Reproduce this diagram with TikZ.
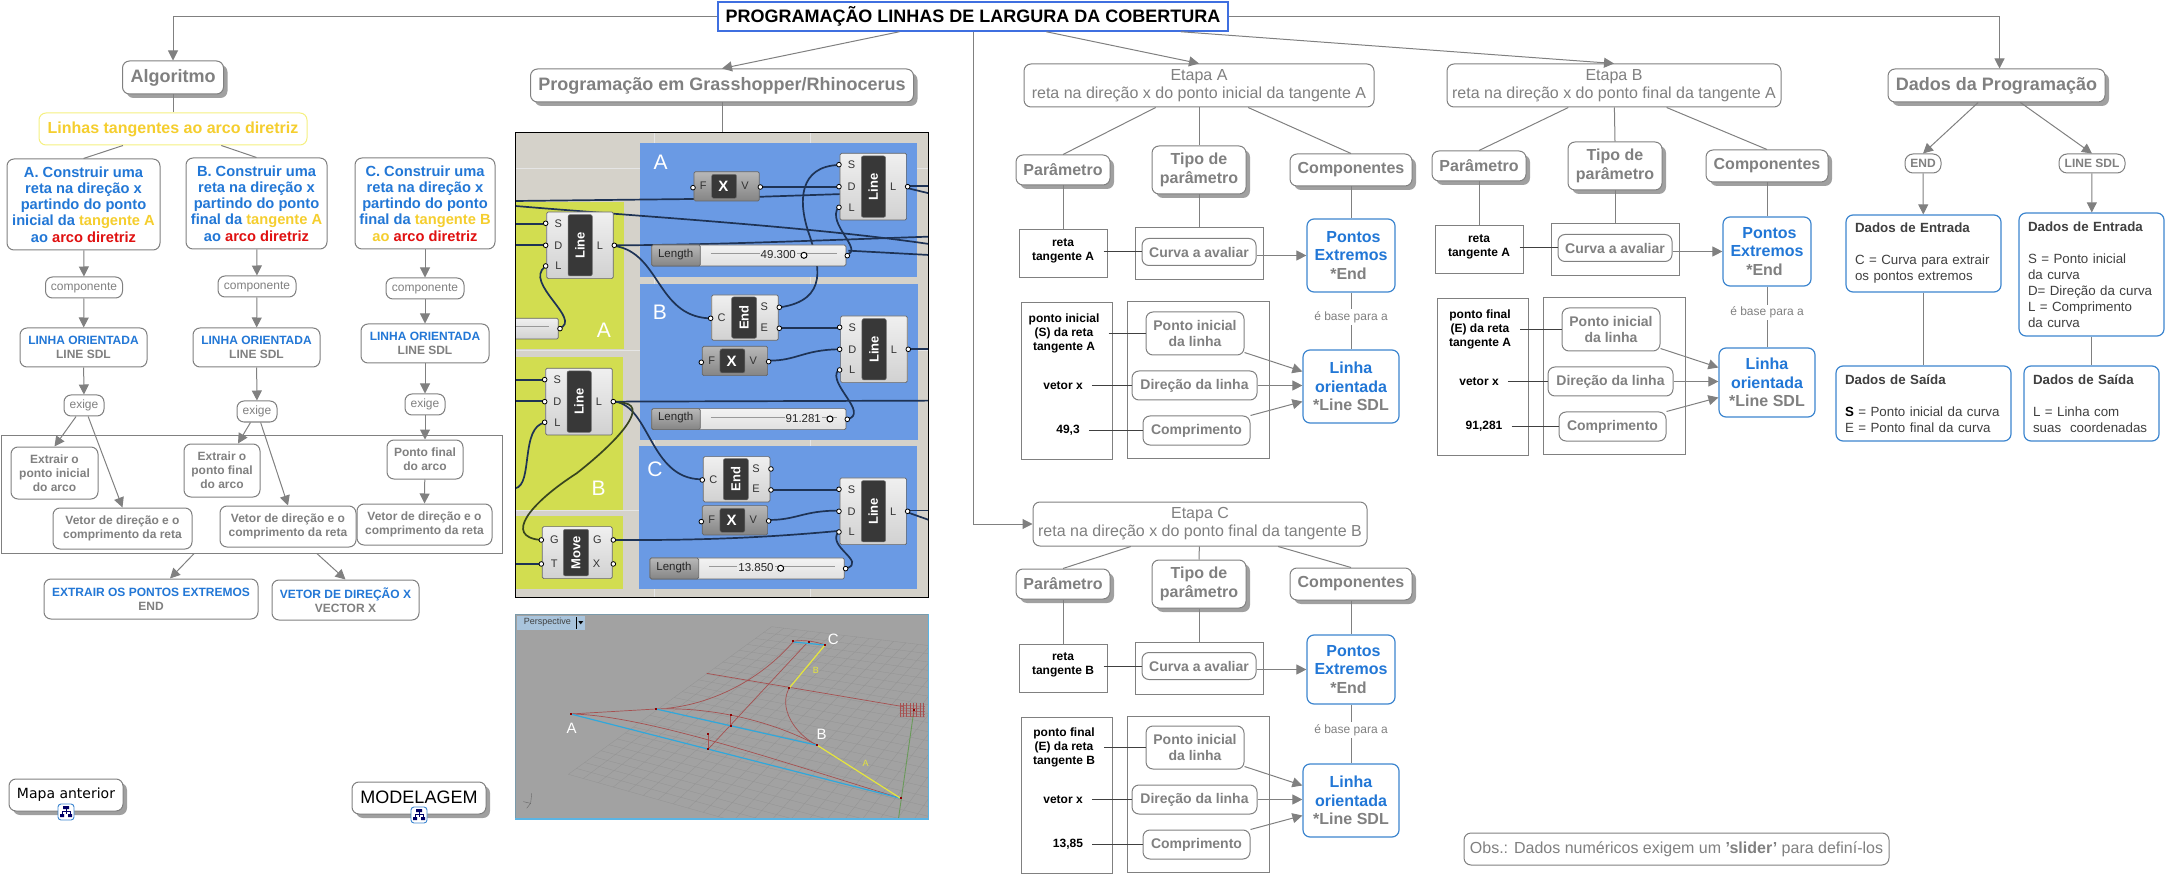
\documentclass[tikz,border=0pt]{standalone}
\usepackage{fontspec}
\setmainfont{Liberation Sans}
\newfontfamily\vfont{DejaVu Sans}
\usepackage{xcolor}
\usetikzlibrary{arrows.meta, calc, shadows}
\definecolor{cgray}{HTML}{808080}
\definecolor{cshadow}{HTML}{A0A0A0}
\definecolor{cblue}{HTML}{2277D6}
\definecolor{cborder}{HTML}{3C85CF}
\definecolor{ctitle}{HTML}{3F6FE0}
\definecolor{cyel}{HTML}{F5CE2E}
\definecolor{cyelb}{HTML}{F5F080}
\definecolor{cred}{HTML}{E01010}
\definecolor{cdark}{HTML}{404040}
\definecolor{gback}{HTML}{D5D2CA}
\definecolor{gblue}{HTML}{6A9AE4}
\definecolor{ggreen}{HTML}{D2DD50}
\definecolor{gwire}{HTML}{1E3355}
\definecolor{gmove}{HTML}{38451F}
\definecolor{vback}{HTML}{A2A2A2}
\definecolor{vgrid}{HTML}{939393}
\definecolor{vred}{HTML}{A65050}
\definecolor{vcyan}{HTML}{2FA8DC}
\definecolor{vyel}{HTML}{E6E63C}
\definecolor{vtab}{HTML}{A9C4DC}
\definecolor{vedge}{HTML}{7A9AAA}
\definecolor{vedgeb}{HTML}{5AB4E4}
\definecolor{vgreen}{HTML}{6A9A5A}

\begin{document}
\begin{tikzpicture}[x=1pt, y=-1pt,
  lnk/.style={line width=1pt, cgray},
  arr/.style={-{Triangle[length=10pt,width=10pt]}, line width=1pt, cgray},
  sz/.style 2 args={minimum width=#1pt, minimum height=#2pt},
  f12/.style={font=\fontsize{12}{14}\selectfont},
  f12b/.style={font=\fontsize{12}{14}\selectfont\bfseries},
  f13/.style={font=\fontsize{13.33}{16}\selectfont},
  f14b/.style={font=\fontsize{14}{16}\selectfont\bfseries},
  f15b/.style={font=\fontsize{14.67}{16.2}\selectfont\bfseries},
  f16/.style={font=\fontsize{16}{18}\selectfont},
  f16b/.style={font=\fontsize{16}{18.5}\selectfont\bfseries},
  f18b/.style={font=\fontsize{18}{20}\selectfont\bfseries},
  cbox/.style={draw=cgray, line width=1pt, rounded corners=7pt, fill=white,
               text=cgray, align=center, inner sep=0pt},
  sbox/.style={cbox, drop shadow={shadow xshift=4pt, shadow yshift=-4pt, fill=cshadow, opacity=1}},
  bbox/.style={cbox, draw=cborder, line width=1.2pt},
  dbox/.style={bbox, f13, text=cdark, align=left},
  rct/.style={draw=cgray, line width=1pt, inner sep=0pt},
  lbl/.style={f12b, align=center, text=black, inner xsep=9pt, inner ysep=0pt},
  gbody/.style={draw=black!60, line width=.7pt, top color=black!6, bottom color=black!18, rounded corners=1.5pt},
  gxbody/.style={draw=black!60, line width=.7pt, top color=black!28, bottom color=black!48, rounded corners=1.5pt},
  gpill/.style={fill=black!78, draw=black!55, line width=.5pt, rounded corners=2pt},
  gname/.style={text=white, inner sep=0pt, font=\fontsize{13}{13}\selectfont\bfseries},
  gpin/.style={text=black!80, inner sep=0pt, font=\fontsize{11}{11}\selectfont},
  gport/.style={draw=black, line width=.8pt, fill=white},
  wire/.style={line width=1.7pt, gwire},
  gtag/.style={text=white, inner sep=0pt, font=\fontsize{21}{21}\selectfont},
  slide/.style={text=black!85, inner sep=0pt, font=\fontsize{11.5}{12}\selectfont},
  vtag/.style={text=white, inner sep=0pt, font=\fontsize{15}{15}\selectfont},
  vline/.style={vred, line width=.7pt}
]
\useasboundingbox (0,0) rectangle (2166,874);

% titulo
\node[draw=ctitle, line width=1.5pt, fill=white, sz={510}{29}, inner sep=0pt, f18b] (titulo) at (973,16.5) {PROGRAMAÇÃO LINHAS DE LARGURA DA COBERTURA};

% coluna do algoritmo
\node[sbox, sz={101}{33}, f18b] (algo) at (173,77.5) {Algoritmo};
\node[cbox, draw=cyelb, text=cyel, sz={268}{32}, font=\fontsize{16}{18}\selectfont\bfseries] (tang) at (173,129) {Linhas tangentes ao arco diretriz};
\node[cbox, text=cblue, sz={153}{91}, f15b] (ca) at (83.5,204.5) {A. Construir uma\\reta na direção x\\partindo do ponto\\inicial da \textcolor{cyel}{tangente A}\\ao \textcolor{cred}{arco diretriz}};
\node[cbox, text=cblue, sz={141}{91}, f15b] (cb) at (256.5,203.5) {B. Construir uma\\reta na direção x\\partindo do ponto\\final da \textcolor{cyel}{tangente A}\\ao \textcolor{cred}{arco diretriz}};
\node[cbox, text=cblue, sz={140}{91}, f15b] (cc) at (425,203.5) {C. Construir uma\\reta na direção x\\partindo do ponto\\final da \textcolor{cyel}{tangente B}\\\textcolor{cyel}{ao} \textcolor{cred}{arco diretriz}};
\node[cbox, sz={77}{21}, f12] (compa) at (84,287.5) {componente};
\node[cbox, sz={78}{21}, f12] (compb) at (257,286.5) {componente};
\node[cbox, sz={78}{21}, f12] (compc) at (425,288.5) {componente};
\node[cbox, sz={127}{39}, f12b] (lina) at (83.5,347.5) {\textcolor{cblue}{LINHA ORIENTADA}\\LINE SDL};
\node[cbox, sz={127}{39}, f12b] (linb) at (256.5,347.5) {\textcolor{cblue}{LINHA ORIENTADA}\\LINE SDL};
\node[cbox, sz={128}{39}, f12b] (linc) at (425,343.5) {\textcolor{cblue}{LINHA ORIENTADA}\\LINE SDL};
\node[cbox, sz={40}{21}, f12] (exa) at (84,405.5) {exige};
\node[cbox, sz={40}{21}, f12] (exb) at (257,411.5) {exige};
\node[cbox, sz={40}{21}, f12] (exc) at (425,404.5) {exige};
\node[rct, sz={501}{118}] (grupo) at (251.5,494) {};
\node[cbox, sz={87}{52}, f12b] (exta) at (54.5,473) {Extrair o\\ponto inicial\\do arco};
\node[cbox, sz={76}{53}, f12b] (extb) at (222,470.5) {Extrair o\\ponto final\\do arco};
\node[cbox, sz={76}{39}, f12b] (pfin) at (425,459.5) {Ponto final\\do arco};
\node[cbox, sz={139}{41}, f12b] (veta) at (122.5,528.5) {Vetor de direção e o\\comprimento da reta};
\node[cbox, sz={136}{41}, f12b] (vetb) at (288,526.5) {Vetor de direção e o\\comprimento da reta};
\node[cbox, sz={135}{41}, f12b] (vetc) at (424.5,524.5) {Vetor de direção e o\\comprimento da reta};
\node[cbox, sz={214}{40}, f12b] (extr) at (151,599) {\textcolor{cblue}{EXTRAIR OS PONTOS EXTREMOS}\\END};
\node[cbox, sz={147}{40}, f12b] (vecx) at (345.5,600) {\textcolor{cblue}{VETOR DE DIREÇÃO X}\\VECTOR X};

\draw[arr] (titulo.west) -| (algo.north);
\draw[lnk] (algo) -- (tang);
\draw[lnk] (tang) -- (ca.north);
\draw[lnk] (tang) -- (cb.north);
\foreach \c in {a,b,c} {
  \draw[arr] (c\c) -- (comp\c);
  \draw[arr] (comp\c) -- (lin\c);
  \draw[arr] (lin\c) -- (ex\c);
}
\draw[arr] (exa) -- (exta.north);
\draw[arr] (exa) -- (veta.north);
\draw[arr] (exb) -- ([xshift=16pt]extb.north);
\draw[arr] (exb) -- (vetb.north);
\draw[arr] (exc) -- (pfin);
\draw[arr] (pfin) -- (vetc.north);
\draw[arr] (grupo) -- ([xshift=19pt]extr.north);
\draw[arr] (grupo) -- (vecx.north);

% mapas ligados
\node[sbox, sz={114}{32}, text=black] (mapa) at (66,795) {\raisebox{4pt}{\vfont\fontsize{14}{16}\selectfont Mapa anterior}};
\node[sbox, sz={134}{32}, text=black, font=\fontsize{18}{20}\selectfont] (model) at (419,798) {\raisebox{2pt}{MODELAGEM}};
\foreach \ix/\iy in {66/812, 419/815} {
  \draw[cborder, line width=.9pt, fill=white, rounded corners=3pt] (\ix-8,\iy-8) rectangle (\ix+8,\iy+8);
  \draw[blue!40!black, line width=.6pt] (\ix,\iy-4) -- (\ix,\iy+2) (\ix-4,\iy+3) -- (\ix-4,\iy-1) -- (\ix+4,\iy-1) -- (\ix+4,\iy+3);
  \fill[blue!40!black] (\ix-3,\iy-6) rectangle (\ix+3,\iy-3) (\ix-6,\iy+2) rectangle (\ix-2,\iy+5) (\ix+2,\iy+2) rectangle (\ix+6,\iy+5);
}

% programacao
\node[sbox, sz={383}{33}, f18b] (prog) at (722,85.5) {Programação em Grasshopper/Rhinocerus};
\coordinate (tela) at (722,133);
\draw[arr] (titulo) -- (prog.north);
\draw[lnk] (prog) -- (tela);

% definicao no grasshopper
\begin{scope}[shift={(510,120)}, x=0.3333pt, y=-0.3333pt]
  \begin{scope}
    \clip (16,38) rectangle (1257,1432);
    \fill[gback] (16,38) rectangle (1257,1432);
    \draw[black!10, line width=.6pt] (432,38) -- (432,1432) (902,38) -- (902,1432) (16,145) -- (1257,145) (16,690) -- (1257,690) (16,1170) -- (1257,1170);
    \fill[gblue] (390,68) rectangle (1222,470);
    \fill[gblue] (390,493) rectangle (1225,960);
    \fill[gblue] (388,978) rectangle (1222,1408);
    \fill[ggreen] (16,245) rectangle (342,688);
    \fill[ggreen] (16,712) rectangle (340,1170);
    \fill[ggreen] (16,1188) rectangle (340,1408);
    \node[gtag] at (452,128) {A};
    \node[gtag] at (450,578) {B};
    \node[gtag] at (435,1047) {C};
    \node[gtag] at (282,632) {A};
    \node[gtag] at (266,1105) {B};
    % fios
    \draw[wire] (16,243) -- (552,237) -- (1000,222);
    \draw[wire] (16,258) .. controls (400,290) and (900,320) .. (1257,372);
    \draw[wire] (752,200) -- (985,200);
    \draw[wire] (810,562) .. controls (960,540) and (925,430) .. (900,350) .. controls (860,240) and (870,140) .. (985,135);
    \draw[wire] (1012,403) .. controls (1060,390) and (950,310) .. (985,262);
    \draw[wire] (315,376) .. controls (600,375) and (900,362) .. (1257,350);
    \draw[wire] (1015,392) -- (1257,405);
    \draw[wire] (315,378) .. controls (450,400) and (440,585) .. (595,595);
    \draw[wire] (148,625) .. controls (220,600) and (40,490) .. (105,440);
    \draw[wire] (810,625) -- (985,625);
    \draw[wire] (778,722) .. controls (860,722) and (880,690) .. (985,688);
    \draw[wire] (1012,898) .. controls (1080,880) and (950,790) .. (985,750);
    \draw[wire] (315,845) -- (1257,842);
    \draw[wire] (315,845) .. controls (420,860) and (420,1075) .. (572,1078);
    \draw[gmove, line width=1.7pt] (330,848) .. controls (420,850) and (340,950) .. (200,1060) .. controls (60,1150) and (-20,1250) .. (92,1260);
    \draw[wire] (16,1105) .. controls (70,1095) and (30,920) .. (105,908);
    \draw[wire] (16,312) -- (100,312);
    \draw[wire] (16,375) -- (100,375);
    \draw[wire] (16,780) -- (100,780);
    \draw[wire] (16,843) -- (100,843);
    \draw[wire] (16,1332) -- (90,1332);
    \draw[wire] (315,1260) .. controls (600,1262) and (800,1250) .. (985,1233);
    \draw[wire] (785,1110) -- (985,1110);
    \draw[wire] (778,1200) .. controls (860,1200) and (880,1172) .. (985,1172);
    \draw[wire] (1010,1345) .. controls (1070,1325) and (950,1280) .. (985,1236);
    \draw[wire] (1195,197) -- (1257,197);
    \draw[wire] (1195,205) -- (1257,220);
    \draw[wire] (1195,688) -- (1257,688);
    \draw[wire] (1195,1172) -- (1257,1172);
    \draw[wire] (1195,1178) -- (1257,1200);
    % componentes Line
    \foreach \cx/\cy in {1090/200, 210/376, 1092/688, 207/845, 1090/1174} {
      \draw[gbody] (\cx-100,\cy-100) rectangle (\cx+100,\cy+100);
      \draw[gpill] (\cx-36,\cy-92) rectangle (\cx+37,\cy+92);
      \node[gname, rotate=90] at (\cx,\cy) {Line};
      \foreach \py/\pl in {-66/S, 0/D, 62/L} {
        \node[gpin] at (\cx-65,\cy+\py) {\pl};
        \draw[gport] (\cx-103,\cy+\py) circle (7);
      }
      \node[gpin] at (\cx+60,\cy) {L};
      \draw[gport] (\cx+103,\cy) circle (7);
    }
    % componentes End
    \foreach \cx/\cy in {705/593, 680/1078} {
      \draw[gbody] (\cx-100,\cy-68) rectangle (\cx+100,\cy+68);
      \draw[gpill] (\cx-40,\cy-62) rectangle (\cx+35,\cy+62);
      \node[gname, rotate=90] at (\cx-3,\cy) {End};
      \node[gpin] at (\cx-70,\cy) {C};
      \node[gpin] at (\cx+58,\cy-33) {S};
      \node[gpin] at (\cx+58,\cy+29) {E};
      \draw[gport] (\cx-103,\cy+2) circle (7);
      \draw[gport] (\cx+103,\cy-31) circle (7);
      \draw[gport] (\cx+103,\cy+32) circle (7);
    }
    % componentes X
    \foreach \cx/\cy in {650/199, 675/723, 675/1201} {
      \draw[gxbody] (\cx-98,\cy-44) rectangle (\cx+98,\cy+44);
      \draw[gpill] (\cx-45,\cy-36) rectangle (\cx+30,\cy+36);
      \node[gname, font=\fontsize{15}{15}\selectfont\bfseries] at (\cx-10,\cy) {X};
      \node[gpin] at (\cx-70,\cy-2) {F};
      \node[gpin] at (\cx+55,\cy-2) {V};
      \draw[gport] (\cx-101,\cy+4) circle (7);
      \draw[gport] (\cx+101,\cy+2) circle (7);
    }
    % componente Move
    \draw[gbody] (97,1220) rectangle (307,1376);
    \draw[gpill] (160,1228) rectangle (236,1368);
    \node[gname, rotate=90] at (198,1298) {Move};
    \node[gpin] at (133,1259) {G};
    \node[gpin] at (133,1330) {T};
    \node[gpin] at (262,1259) {G};
    \node[gpin] at (260,1330) {X};
    \foreach \px/\py in {94/1260, 94/1332, 310/1260, 310/1332} {
      \draw[gport] (\px,\py) circle (7);
    }
    % sliders
    \foreach \sx/\sy/\sv/\vx/\ox in {425/375/49.300/805/882, 425/866/91.281/880/960, 420/1314/13.850/738/812} {
      \draw[gbody, top color=black!5, bottom color=black!12] (\sx,\sy) rectangle (\sx+583,\sy+63);
      \draw[gxbody] (\sx,\sy) rectangle (\sx+146,\sy+63);
      \node[slide] at (\sx+72,\sy+28) {Length};
      \draw[black!40, line width=.4pt] (\sx+178,\sy+26) -- (\sx+555,\sy+26);
      \node[slide, fill=black!8, inner xsep=1pt] at (\vx,\sy+30) {\sv};
      \draw[black, line width=1pt, fill=white] (\ox,\sy+31) circle (9);
      \draw[gport] (\sx+587,\sy+32) circle (7);
    }
    \draw[gbody] (6,595) rectangle (145,657);
    \draw[black!40, line width=.4pt] (16,620) -- (118,620);
    \draw[gport] (150,626) circle (7);
  \end{scope}
  \draw[black, line width=1pt] (16,38) rectangle (1257,1432);
\end{scope}

% vista em perspectiva
\begin{scope}[shift={(510,600)}, x=0.3333pt, y=-0.3333pt]
  \begin{scope}
    \clip (16,42) rectangle (1255,660);
    \fill[vback] (16,42) rectangle (1255,660);
    \coordinate (pl) at (175,523);
    \coordinate (pt) at (785,80);
    \coordinate (pr) at (1700,190);
    \coordinate (pb) at (1300,840);
    \foreach \t in {0,0.04,...,1.01} {
      \draw[vgrid, line width=.3pt] ($(pl)!\t!(pt)$) -- ($(pb)!\t!(pr)$);
      \draw[vgrid, line width=.3pt] ($(pl)!\t!(pb)$) -- ($(pt)!\t!(pr)$);
    }
    \draw[vgreen, line width=.9pt] (1212,330) -- (1165,660);
    \draw[vline] (590,220) -- (1180,320);
    \draw[vline] (182,342) -- (438,327);
    \draw[vline] (182,342) .. controls (400,345) and (800,480) .. (1172,595);
    \draw[vline] (438,327) .. controls (620,320) and (800,370) .. (922,436);
    \draw[vline] (470,325) .. controls (620,310) and (760,230) .. (850,125);
    \draw[vline] (838,264) .. controls (805,320) and (850,400) .. (922,436);
    \draw[vline] (890,130) -- (595,447);
    \draw[vline] (595,403) -- (595,447);
    \draw[vline] (662,345) -- (662,378);
    \draw[vline] (850,124) .. controls (880,118) and (920,125) .. (945,135);
    \foreach \hx in {1170,1180,...,1245} {
      \draw[vline, line width=.5pt] (\hx,310) -- (\hx,352);
    }
    \foreach \hy in {316,324,...,350} {
      \draw[vline, line width=.5pt] (1170,\hy) -- (1245,\hy+3);
    }
    \draw[vcyan, line width=1.2pt] (182,342) -- (1172,595);
    \draw[vcyan, line width=1.2pt] (438,327) -- (922,436);
    \draw[vcyan, line width=1.2pt] (850,126) -- (945,135);
    \draw[vyel, line width=1.2pt] (922,436) -- (1172,595);
    \draw[vyel, line width=1.2pt] (945,135) -- (838,264);
    \foreach \mx/\my in {182/342, 438/327, 595/403, 595/447, 662/345, 662/378, 838/264, 922/436, 945/135, 898/126, 850/124, 1172/595, 1212/330} {
      \fill[red!55!black] (\mx-3,\my-3) rectangle (\mx+3,\my+3);
    }
    \node[vtag] at (185,385) {A};
    \node[vtag] at (935,402) {B};
    \node[vtag] at (970,118) {C};
    \node[text=vyel, inner sep=0pt, font=\fontsize{9}{9}\selectfont] at (918,212) {B};
    \node[text=vyel, inner sep=0pt, font=\fontsize{9}{9}\selectfont] at (1067,491) {A};
    \draw[black!60, line width=.4pt] (40,605) -- (62,610) -- (65,580) (62,610) -- (50,625);
    \fill[vtab] (22,48) rectangle (225,90);
    \node[text=black!75, inner sep=0pt, font=\fontsize{9}{9}\selectfont] at (112,68) {Perspective};
    \draw[black, line width=.7pt] (200,52) -- (200,86);
    \fill[black] (205,63) -- (220,63) -- (212,73) -- cycle;
  \end{scope}
  \draw[vedge, line width=1pt] (16,660) -- (16,42) -- (1255,42);
  \draw[vedgeb, line width=1.2pt] (16,657) -- (1255,657) -- (1255,42);
\end{scope}

% etapas
\node[cbox, sz={350}{43}, f16] (etA) at (1199,85.5) {Etapa A\\reta na direção x do ponto inicial da tangente A};
\node[cbox, sz={334}{43}, f16] (etB) at (1614,85.5) {Etapa B\\reta na direção x do ponto final da tangente A};
\node[cbox, sz={334}{44}, f16] (etC) at (1200,524) {Etapa C\\reta na direção x do ponto final da tangente B};
\draw[arr] (titulo) -- (etA.north);
\draw[arr] (titulo) -- (etB.north);
\draw[arr] (titulo.south) |- (etC.west);

\foreach \et/\dx/\dy/\ph/\lh/\tr/\ts/\tv in {
    A/0/0/73/73/{reta\\tangente A}/{ponto inicial\\(S) da reta\\tangente A}/{49,3},
    B/416/-4/69/69/{reta\\tangente A}/{ponto final\\(E) da reta\\tangente A}/{91,281},
    C/0/414/69/73/{reta\\tangente B}/{ponto final\\(E) da reta\\tangente B}/{13,85}} {
  \begin{scope}[shift={(\dx,\dy)}]
    \node[sbox, sz={94}{30}, f16b] (par\et) at (1063,170) {Parâmetro};
    \node[sbox, sz={94}{48}, f16b] (tipo\et) at (1199,170) {Tipo de\\parâmetro};
    \node[sbox, sz={122}{32}, f16b] (comp\et) at (1351,170) {Componentes};
    \node[rct, sz={88}{48}] (gret\et) at (1063,254) {};
    \node[lbl] (tret\et) at (1063,251) {\tr};
    \node[rct, sz={128}{52}] (gcur\et) at (1199,254) {};
    \node[cbox, sz={114}{27}, f14b] (cur\et) at (1199,252) {Curva a avaliar};
    \node[bbox, sz={88}{\ph}, f16b, text=cblue] (pontos\et) at (1351,255.5) {\hspace*{5pt}Pontos\\Extremos\\\textcolor{cgray}{*End\hspace*{5pt}}};
    \node[rct, sz={91}{156}] (gesq\et) at (1066.5,381) {};
    \node[rct, sz={142}{156}] (gdir\et) at (1198,380) {};
    \node[cbox, sz={98}{43}, f14b] (pin\et) at (1195,333.5) {Ponto inicial\\da linha};
    \node[cbox, sz={125}{29}, f14b] (dir\et) at (1194.5,385.5) {Direção da linha};
    \node[cbox, sz={107}{29}, f14b] (cpr\et) at (1196.5,430.5) {Comprimento};
    \node[bbox, sz={96}{\lh}, f16b, text=cblue] (lin\et) at (1351,386.5) {Linha\\orientada\\\textcolor{cgray}{*Line SDL}};
    \node[lbl] (tsa\et) at (1064,333.5) {\ts};
    \node[lbl] (tvx\et) at (1063,386) {vetor x};
    \node[lbl] (tnu\et) at (1068,430.5) {\tv};
  \end{scope}
  \draw[lnk] (et\et) -- (par\et.north);
  \draw[lnk] (et\et) -- (tipo\et.north);
  \draw[lnk] (et\et) -- (comp\et.north);
  \draw[lnk] (par\et) -- (gret\et.north);
  \draw[lnk] (tipo\et) -- (gcur\et.north);
  \draw[lnk] (comp\et) -- (pontos\et);
  \draw[lnk] (pontos\et) -- node[pos=.43, fill=white, text=cgray, f12, inner xsep=1pt, inner ysep=2pt] (base\et) {é base para a} (lin\et);
  \draw[lnk, black!75] ([xshift=-4pt]gret\et.east |- cur\et.west) -- (cur\et.west);
  \draw[arr] (cur\et.east |- pontos\et.west) -- (pontos\et.west);
  \draw[lnk, black!75] (tsa\et.east |- pin\et.west) -- (pin\et.west);
  \draw[lnk, black!75] (tvx\et.east |- dir\et.west) -- (dir\et.west);
  \draw[lnk, black!75] (tnu\et.east |- cpr\et.west) -- (cpr\et.west);
  \draw[arr] ([yshift=3pt]pin\et.south east) -- ([yshift=15pt]lin\et.west);
  \draw[arr] (dir\et.east) -- (dir\et.east -| lin\et.west);
  \draw[arr] (cpr\et.north east) -- ([yshift=-15pt]lin\et.west);
}

% dados da programacao
\node[sbox, sz={217}{33}, f18b] (dados) at (1996.5,85.5) {Dados da Programação};
\node[cbox, rounded corners=8pt, sz={36}{19}, f12b] (end) at (1923,163.5) {END};
\node[cbox, rounded corners=8pt, sz={66}{19}, f12b] (sdl) at (2092,163.5) {LINE SDL};
\node[dbox, sz={155}{77}, text width=137pt, inner xsep=9pt] (enta) at (1923.5,253.5) {\textbf{Dados de Entrada}\\[16pt]C = Curva para extrair\\os pontos extremos};
\node[dbox, sz={175}{75}, text width=157pt, inner xsep=9pt] (saia) at (1923.5,403.5) {\textbf{Dados de Saída}\\[16pt]\textbf{\textcolor{black}{S}} = Ponto inicial da curva\\E = Ponto final da curva};
\node[dbox, sz={145}{123}, text width=127pt, inner xsep=9pt] (entb) at (2091.5,274.5) {\textbf{Dados de Entrada}\\[16pt]S = Ponto inicial\\da curva\\D= Direção da curva\\L = Comprimento\\da curva};
\node[dbox, sz={135}{75}, text width=117pt, inner xsep=9pt] (saib) at (2091.5,403.5) {\textbf{Dados de Saída}\\[16pt]L = Linha com\\suas\ \ coordenadas};
\draw[arr] (titulo.east) -| ([xshift=3pt]dados.north);
\draw[arr] (dados) -- (end.north);
\draw[arr] (dados) -- (sdl.north);
\draw[arr] (end) -- (enta);
\draw[arr] (sdl) -- (entb);
\draw[lnk] (enta) -- (saia);
\draw[lnk] (entb) -- (saib);

% observacao
\node[cbox, sz={425}{32}, f16] (obs) at (1676.5,849) {Obs.: Dados numéricos exigem um \textbf{'slider'} para definí-los};
\end{tikzpicture}
\end{document}
